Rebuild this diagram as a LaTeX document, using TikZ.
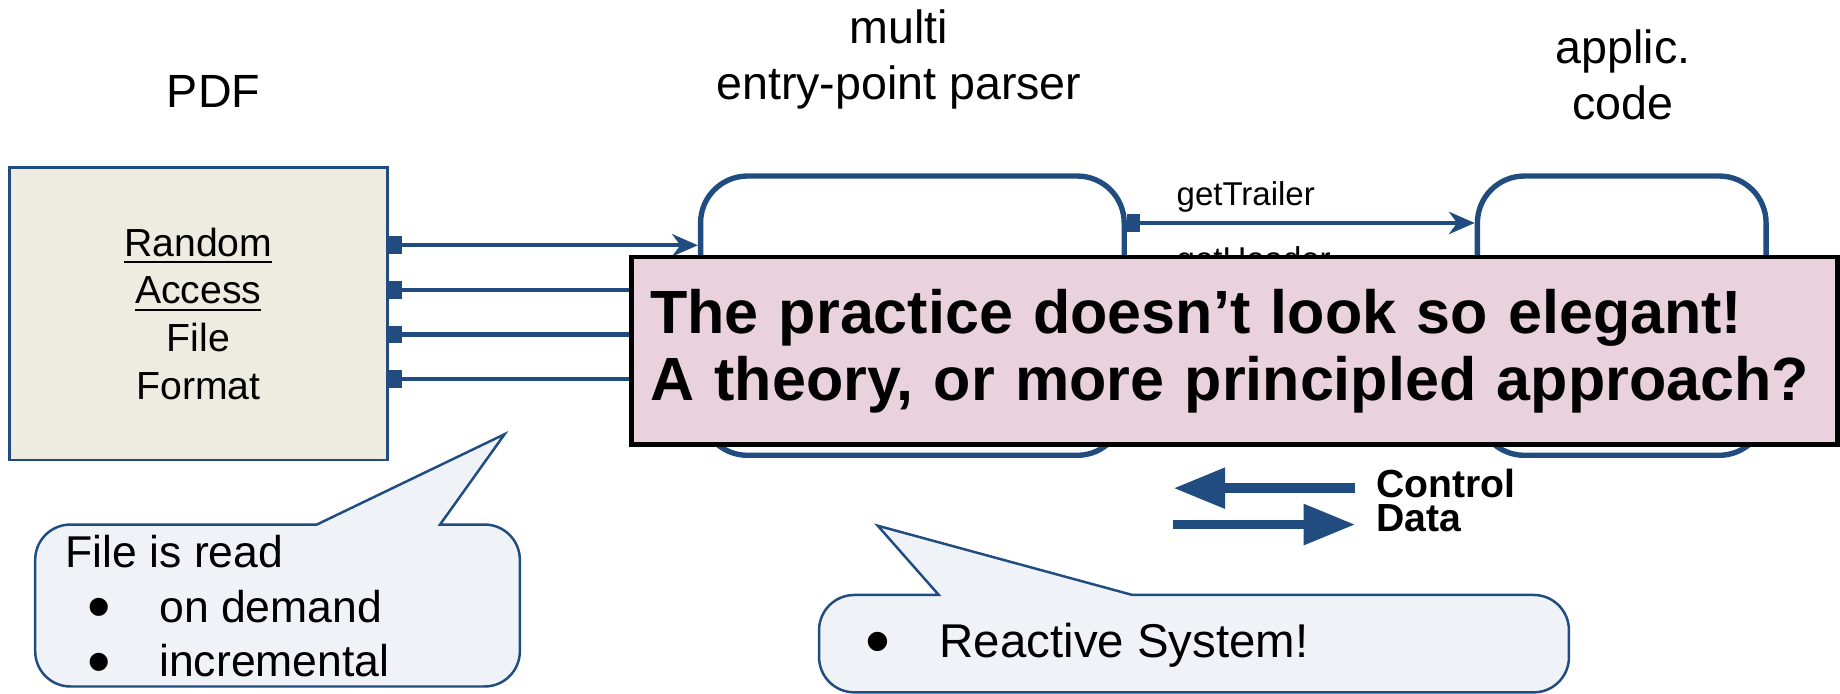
\documentclass[tikz,border=0pt]{standalone}
\usepackage{fontspec}
\setmainfont{Liberation Sans}
\usetikzlibrary{arrows.meta}

\definecolor{linkblue}{RGB}{32,76,128}
\definecolor{filetan}{RGB}{238,236,225}
\definecolor{notepink}{RGB}{233,209,221}
\definecolor{balloonfill}{RGB}{239,243,247}

\newcommand{\blob}{\smash{\raisebox{-0.17em}{\scalebox{1.5}{•}}}}

\begin{document}
\begin{tikzpicture}[
    title/.style={align=center, font=\fontsize{11.3}{13.6}\selectfont},
    filebox/.style={draw=linkblue, fill=filetan, line width=0.7pt,
      minimum width=3.22cm, minimum height=2.49cm, align=center,
      font=\fontsize{9.5}{11.6}\selectfont},
    module/.style={draw=linkblue, line width=1.3pt, rounded corners=4mm,
      minimum height=2.38cm},
    link/.style={linkblue, line width=1pt,
      {Square[length=1.1mm,width=1.5mm]}-{Stealth[length=2.2mm,width=1.9mm,inset=0.7mm]}},
    call/.style={inner sep=0pt, font=\fontsize{8}{9}\selectfont},
    note/.style={draw=black, line width=1.2pt, fill=notepink,
      text width=9.96cm, inner xsep=0.16cm, minimum height=1.6cm,
      align=left, font=\fontsize{14.8}{16.2}\selectfont\bfseries},
    legendlbl/.style={inner sep=0pt, font=\fontsize{9.5}{11}\selectfont\bfseries},
    legendarrow/.style={linkblue, line width=2.3pt,
      -{Triangle[length=4.4mm,width=3.3mm]}},
    balloon/.style={draw=linkblue, fill=balloonfill, line width=0.6pt},
    balloontext/.style={inner sep=0pt, align=left,
      font=\fontsize{10.8}{13.2}\selectfont}
  ]
  \useasboundingbox (0,0) rectangle (15.68,5.91);

  % titles
  \node[title] (pdftitle) at (1.82,5.13) {PDF};
  \node[title] (parsertitle) at (7.66,5.40) {multi\\entry-point parser};
  \node[title] (apptitle) at (13.83,5.27) {applic.\\code};

  % the three parts
  \node[filebox] (pdf) at (1.69,3.235)
    {\underline{Random}\\\underline{Access}\\File\\Format};
  \node[module, minimum width=3.61cm] (parser) at (7.775,3.22) {};
  \node[module, minimum width=2.46cm] (app) at (13.82,3.22) {};

  % entry points into the parser
  \foreach \y in {3.82,3.44,3.06,2.68} {
    \coordinate (lvl) at (0,\y);
    \draw[link] (pdf.east |- lvl) -- (parser.west |- lvl);
  }

  \coordinate (trailer) at (0,4.01);
  \draw[link] (parser.east |- trailer) -- (app.west |- trailer);
  \node[call, anchor=west] (trailerlbl) at (10.02,4.23) {getTrailer};
  \node[call, anchor=west] (headerlbl) at (10.02,3.68) {getHeader};

  \node[note] (note) at (10.52,2.92)
    {The practice doesn’t look so elegant!\\A theory, or more principled approach?};

  % legend
  \node[legendlbl, anchor=west] (ctrl) at (11.72,1.79) {Control};
  \node[legendlbl, anchor=west] (data) at (11.72,1.49) {Data};
  \draw[legendarrow] ([xshift=-1.7mm,yshift=-0.4mm]ctrl.west) -- ++(-1.55,0);
  \draw[legendarrow] ([xshift=-17.2mm,yshift=-0.5mm]data.west)
    -- ([xshift=-1.7mm,yshift=-0.5mm]data.west);

  % balloons
  \draw[balloon] (1.5,0.06) [rounded corners=3mm] -- (0.30,0.06) -- (0.30,1.44)
    [sharp corners] -- (2.70,1.44) -- (4.30,2.21) -- (3.75,1.44)
    [rounded corners=3mm] -- (4.43,1.44) -- (4.43,0.06) -- cycle;
  \node[balloontext, anchor=west] (readtxt) at (0.55,0.745)
    {File is read\\
     \hspace*{0.19cm}\makebox[0.61cm][l]{\blob}on demand\\
     \hspace*{0.19cm}\makebox[0.61cm][l]{\blob}incremental};

  \draw[balloon] (10,0.01) [rounded corners=3mm] -- (6.98,0.01) -- (6.98,0.84)
    [sharp corners] -- (8.00,0.84) -- (7.48,1.43) -- (9.65,0.84)
    [rounded corners=3mm] -- (13.37,0.84) -- (13.37,0.01) -- cycle;
  \node[balloontext, anchor=west, font=\fontsize{11.5}{13}\selectfont]
    (reacttxt) at (7.37,0.41) {\makebox[0.63cm][l]{\blob}Reactive System!};
\end{tikzpicture}
\end{document}
